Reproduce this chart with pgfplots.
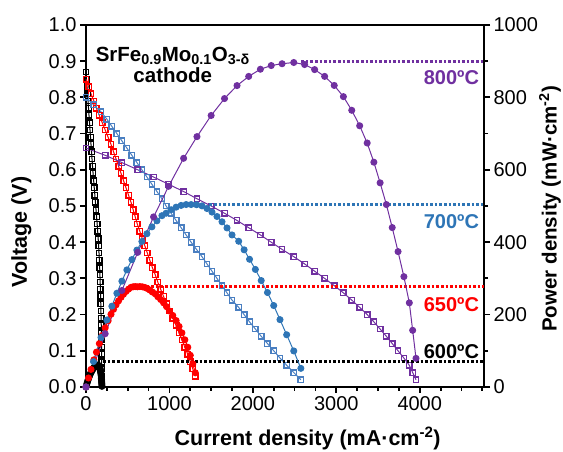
\documentclass[border=0pt]{standalone}
\usepackage{fontspec}
\setmainfont{Liberation Sans}
\usepackage{pgfplots}
\usepackage{pgfplotstable}
\pgfplotsset{compat=1.18}

\definecolor{cpurple}{HTML}{7030A0}
\definecolor{cblue}{HTML}{2E75B6}
\definecolor{cbluesq}{HTML}{4A7FC1}
\definecolor{cred}{HTML}{FF0000}

% I (mA/cm2), V (V), P (mW/cm2)
\pgfplotstableread{
I V P
0 0.87 0
6 0.85 5.1
12 0.83 10.0
18 0.81 14.6
24 0.79 19.0
30 0.77 23.1
36 0.75 27.0
42 0.73 30.7
48 0.71 34.1
54 0.69 37.3
60 0.67 40.2
66 0.65 42.9
72 0.63 45.4
78 0.61 47.6
85 0.59 50.2
92 0.57 52.4
99 0.55 54.5
106 0.53 56.2
113 0.51 57.6
120 0.49 58.8
127 0.47 59.7
134 0.45 60.3
140 0.43 60.2
146 0.41 59.9
151 0.39 58.9
156 0.37 57.7
160 0.35 56.0
164 0.33 54.1
167 0.31 51.8
170 0.29 49.3
173 0.27 46.7
175 0.25 43.8
177 0.23 40.7
179 0.21 37.6
181 0.19 34.4
183 0.17 31.1
184 0.15 27.6
185 0.13 24.1
186 0.11 20.5
187 0.09 16.8
188 0.07 13.2
189 0.05 9.5
190 0.03 5.7
191 0.01 1.9
}\tblsix

\pgfplotstableread{
I V P
0 0.85 0
30 0.83 24.9
60 0.81 48.6
95 0.79 75.1
125 0.77 96.3
160 0.75 120.0
195 0.73 142.4
230 0.71 163.3
265 0.69 182.9
300 0.67 201.0
330 0.65 214.5
360 0.63 226.8
390 0.61 237.9
420 0.59 247.8
450 0.57 256.5
480 0.55 264.0
510 0.53 270.3
540 0.51 275.4
565 0.49 276.9
590 0.47 277.3
615 0.45 276.8
645 0.43 277.4
675 0.41 276.8
705 0.39 275.0
735 0.37 272.0
765 0.35 267.8
795 0.33 262.4
830 0.31 257.3
860 0.29 249.4
895 0.27 241.7
930 0.25 232.5
965 0.23 222.0
1000 0.21 210.0
1040 0.19 197.6
1080 0.17 183.6
1115 0.15 167.3
1150 0.13 149.5
1185 0.11 130.4
1220 0.09 109.8
1250 0.07 87.5
1280 0.05 64.0
1310 0.03 39.3
}\tblsixfifty

\pgfplotstableread{
I V P
0 0.80 0
90 0.78 70.2
180 0.76 136.8
250 0.74 185.0
310 0.72 223.2
370 0.70 259.0
430 0.68 292.4
490 0.66 323.4
550 0.64 352.0
610 0.62 378.2
670 0.60 402.0
730 0.58 423.4
790 0.56 442.4
850 0.54 459.0
910 0.52 473.2
960 0.50 480.0
1020 0.48 489.6
1080 0.46 496.8
1140 0.44 501.6
1200 0.42 504.0
1260 0.40 504.0
1325 0.38 503.5
1390 0.36 500.4
1450 0.34 493.0
1510 0.32 483.2
1570 0.30 471.0
1630 0.28 456.4
1690 0.26 439.4
1750 0.24 420.0
1830 0.22 402.6
1895 0.20 379.0
1960 0.18 352.8
2030 0.16 324.8
2100 0.14 294.0
2175 0.12 261.0
2250 0.10 225.0
2325 0.08 186.0
2405 0.06 144.3
2490 0.04 99.6
2575 0.02 51.5
}\tblseven

\pgfplotstableread{
I V P
0 0.66 0
230 0.64 147.2
430 0.62 266.6
620 0.60 372.0
810 0.58 469.8
990 0.56 554.4
1170 0.54 631.8
1330 0.52 691.6
1500 0.50 750.0
1660 0.48 796.8
1810 0.46 832.6
1950 0.44 858.0
2090 0.42 877.8
2220 0.40 888.0
2350 0.38 893.0
2490 0.36 896.4
2620 0.34 890.8
2740 0.32 876.8
2860 0.30 858.0
2975 0.28 833.0
3085 0.26 802.1
3185 0.24 764.4
3280 0.22 721.6
3370 0.20 674.0
3450 0.18 621.0
3525 0.16 564.0
3600 0.14 504.0
3670 0.12 440.4
3740 0.10 374.0
3810 0.08 304.8
3875 0.06 232.5
3915 0.04 156.6
3955 0.02 79.1
}\tbleight

\pgfplotsset{
  base/.style={
    at={(86pt,65pt)}, anchor=south west, scale only axis,
    width=398pt, height=362pt,
    xmin=0, xmax=4770,
    clip=false,
    axis line style={line width=2pt},
    tick align=outside,
    major tick length=6pt, minor tick length=4pt,
    major tick style={line width=1.8pt, black},
    minor tick style={line width=1.8pt, black},
    /pgf/number format/assume math mode=true,
    /pgf/number format/1000 sep={},
    tick label style={font=\fontsize{20}{24}\selectfont},
    label style={font=\bfseries\fontsize{21.5}{25}\selectfont, inner sep=0pt},
  },
  vi/.style={mark=square, mark size=2.7pt, line width=1pt,
    mark options={solid, line width=1.4pt, fill=white}},
  pw/.style={mark=*, mark size=3pt, line width=1pt},
  lvl/.style={line width=3pt, dash pattern=on 2.6pt off 2pt},
}
\tikzset{
  tlab/.style={anchor=east, inner sep=0pt, font=\bfseries\fontsize{20}{24}\selectfont},
}

\begin{document}
\begin{tikzpicture}
\path[use as bounding box] (0,0) rectangle (563pt,452pt);

\begin{axis}[base,
  ymin=0, ymax=1,
  xtick={0,1000,2000,3000,4000},
  minor xtick={250,500,750,1250,1500,1750,2250,2500,2750,3250,3500,3750,4250,4500,4750},
  ytick={0,0.1,0.2,0.3,0.4,0.5,0.6,0.7,0.8,0.9,1.0},
  xtick pos=bottom, ytick pos=left,
  yticklabel style={/pgf/number format/.cd, fixed, fixed zerofill, precision=1},
  xlabel={Current density (mA·cm\textsuperscript{-2})},
  xlabel style={at={(axis description cs:0.557,0)}, anchor=north, yshift=-40pt},
  ylabel={Voltage (V)},
  ylabel style={at={(axis description cs:-0.188,0.428)}, anchor=north},
]
\addplot[vi, black] table[x=I, y=V] {\tblsix};
\addplot[vi, cred] table[x=I, y=V] {\tblsixfifty};
\addplot[vi, cbluesq] table[x=I, y=V] {\tblseven};
\addplot[vi, cpurple] table[x=I, y=V] {\tbleight};

\node[align=center, inner sep=0pt, font=\bfseries\fontsize{20.5}{21}\selectfont]
  at (rel axis cs:0.218,0.889)
  {SrFe\textsubscript{0.9}Mo\textsubscript{0.1}O\textsubscript{3-δ}\\cathode};
\end{axis}

\begin{axis}[base,
  ymin=0, ymax=1000,
  axis x line=none, axis y line*=right,
  ytick={0,200,400,600,800,1000},
  minor ytick={100,300,500,700,900},
  ylabel={Power density (mW·cm\textsuperscript{-2})},
  ylabel style={at={(axis description cs:1.138,0.492)}, anchor=north,
    font=\bfseries\fontsize{20.5}{24}\selectfont},
]
\addplot[lvl, cpurple] coordinates {(2580,900) (4770,900)};
\addplot[lvl, cblue] coordinates {(1480,505) (4770,505)};
\addplot[lvl, cred] coordinates {(727,278) (4770,278)};
\addplot[lvl, black] coordinates {(205,70) (4770,70)};

\addplot[pw, black] table[x=I, y=P] {\tblsix};
\addplot[pw, cred] table[x=I, y=P] {\tblsixfifty};
\addplot[pw, cblue] table[x=I, y=P] {\tblseven};
\addplot[pw, cpurple] table[x=I, y=P] {\tbleight};

\node[tlab, text=cpurple] at (axis cs:4712,856) {800ºC};
\node[tlab, text=cblue] at (axis cs:4712,457) {700ºC};
\node[tlab, text=cred] at (axis cs:4712,228) {650ºC};
\node[tlab, text=black] at (axis cs:4712,97) {600ºC};
\end{axis}
\end{tikzpicture}
\end{document}
